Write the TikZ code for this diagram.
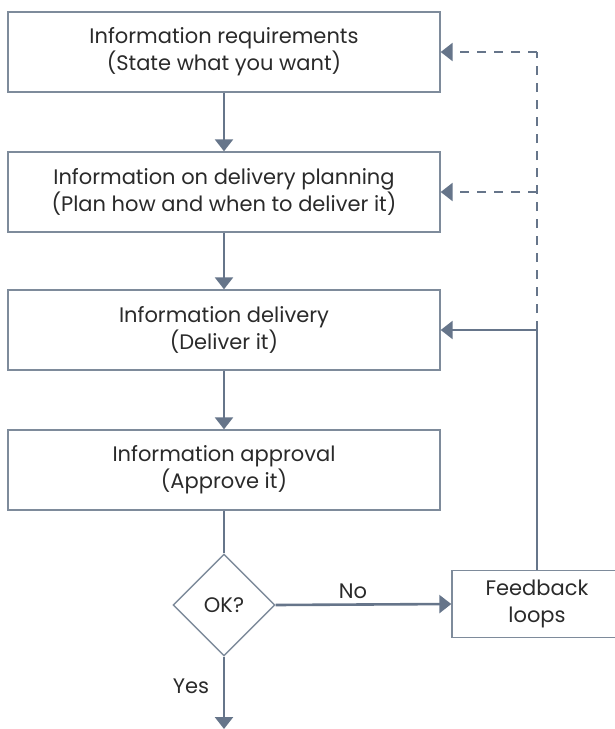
\documentclass[tikz,border=0pt]{standalone}
\usepackage{fontspec}
\setmainfont{Poppins}
\usetikzlibrary{shapes.geometric,arrows.meta}
\definecolor{linecol}{HTML}{66758A}
\definecolor{boxcol}{HTML}{7E8B9B}
\definecolor{textcol}{HTML}{2A2A2A}
\begin{document}
\begin{tikzpicture}[x=1pt,y=-1pt,
  box/.style={draw=boxcol,line width=1.4pt,minimum width=432pt,minimum height=80pt,
    align=center,text=textcol,font=\fontsize{21}{27}\selectfont},
  label/.style={text=textcol,font=\fontsize{21}{27}\selectfont},
  flow/.style={draw=linecol,line width=2.6pt},
  arr/.style={flow,-{Triangle[width=18pt,length=12pt]}},
  dasharr/.style={arr,dash pattern=on 9pt off 8pt}]
\useasboundingbox (0,0) rectangle (614,729);
\node[box] (req) at (224,52) {Information requirements\\(State what you want)};
\node[box] (plan) at (224,192) {Information on delivery planning\\(Plan how and when to deliver it)};
\node[box] (deliv) at (224,330) {Information delivery\\(Deliver it)};
\node[box] (appr) at (224,470) {Information approval\\(Approve it)};
\node[diamond,draw=boxcol,line width=1.4pt,minimum size=102pt,inner sep=0pt,label] (ok) at (224,605) {OK?};
\node[box,minimum width=170pt,minimum height=67pt] (fb) at (537,604) {Feedback\\loops};
\node[label] (no) at (353,591) {No};
\node[label] (yes) at (191,686) {Yes};
\coordinate (out) at (224,729);
\coordinate (turn) at (537,330);
\coordinate (top) at (537,52);
% main flow
\draw[arr] (req) -- (plan);
\draw[arr] (plan) -- (deliv);
\draw[arr] (deliv) -- (appr);
\draw[flow] (appr) -- (ok);
\draw[arr] (ok.south) -- (out);
\draw[arr] (ok.east) -- (fb.west);
% feedback loops
\draw[flow] (fb.north) -- (turn);
\draw[arr] (turn) -- (deliv.east);
\draw[flow,dash pattern=on 9pt off 8pt] (turn) -- (top);
\draw[dasharr] (top) -- (req.east);
\draw[dasharr] (turn |- plan.east) -- (plan.east);
\end{tikzpicture}
\end{document}
